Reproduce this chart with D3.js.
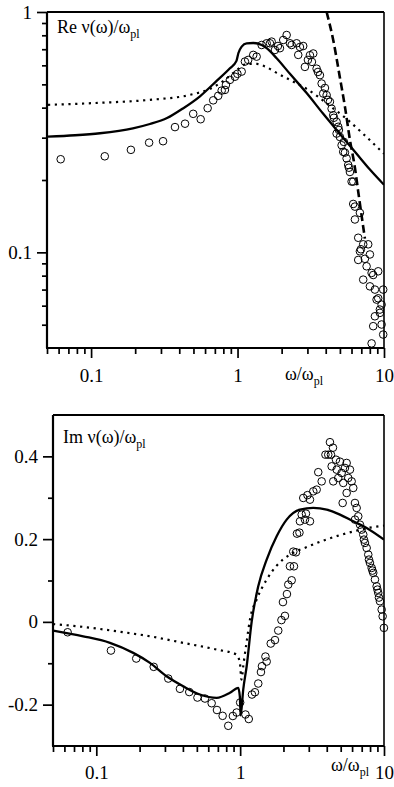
<!DOCTYPE html>
<html>
<head>
<meta charset="utf-8">
<script src="https://cdn.jsdelivr.net/npm/d3@7"></script>
<style>
    html, body { margin: 0; padding: 0; background: #fff; }
    svg { display: block; }
</style>
</head>
<body>
<svg id="chart" width="394" height="787"></svg>
<script>
// ---- Re panel data (omega / omega_pl, value) ----
const reCircles = [
    [0.062, 0.244], [0.124, 0.251], [0.187, 0.267], [0.249, 0.286], [0.310, 0.290], [0.374, 0.332],
    [0.438, 0.343], [0.498, 0.377], [0.560, 0.358], [0.625, 0.398], [0.682, 0.429], [0.738, 0.448],
    [0.779, 0.471], [0.820, 0.474], [0.833, 0.497], [0.887, 0.522], [0.960, 0.538], [0.998, 0.553],
    [1.067, 0.565], [1.123, 0.622], [1.183, 0.632], [1.280, 0.663], [1.350, 0.652], [1.461, 0.729],
    [1.580, 0.741], [1.664, 0.741], [1.709, 0.753], [1.800, 0.695], [1.887, 0.722], [1.947, 0.707],
    [2.051, 0.765], [2.164, 0.802], [2.279, 0.741], [2.341, 0.729], [2.532, 0.741], [2.597, 0.663],
    [2.667, 0.715], [2.808, 0.722], [2.884, 0.591], [3.024, 0.632], [3.121, 0.661], [3.220, 0.620],
    [3.287, 0.672], [3.467, 0.581], [3.539, 0.563], [3.652, 0.546], [3.751, 0.504], [3.846, 0.458],
    [3.951, 0.483], [4.057, 0.451], [4.141, 0.431], [4.272, 0.423], [4.388, 0.396], [4.500, 0.372],
    [4.550, 0.363], [4.747, 0.349], [4.868, 0.333], [4.747, 0.312], [4.923, 0.323], [5.000, 0.302],
    [5.135, 0.279], [5.325, 0.288], [5.266, 0.262], [5.409, 0.260], [5.555, 0.246], [5.696, 0.231],
    [5.760, 0.225], [5.851, 0.216], [6.009, 0.197], [6.163, 0.197], [6.163, 0.159], [6.330, 0.155],
    [6.847, 0.146], [6.330, 0.137], [6.667, 0.115], [7.211, 0.108], [7.802, 0.108], [6.847, 0.101],
    [6.956, 0.103], [8.013, 0.098], [6.667, 0.093], [7.406, 0.094], [7.607, 0.0875], [8.229, 0.0821],
    [9.130, 0.0834], [8.439, 0.0805], [7.211, 0.0770], [8.013, 0.0722], [8.667, 0.0700], [9.874, 0.0700],
    [8.901, 0.0636], [9.130, 0.0644], [9.630, 0.0606], [9.376, 0.0578], [8.667, 0.0542], [9.376, 0.0560],
    [8.439, 0.0493], [9.630, 0.0501], [9.874, 0.0455], [8.229, 0.0418]
];

const reSolidW = [0.0508, 0.0777, 0.115, 0.193, 0.252, 0.330, 0.424, 0.554, 0.720, 0.887, 0.983, 1.014,
    1.067, 1.154, 1.280, 1.461, 1.580, 1.849, 2.279, 2.963, 3.846, 5.000, 6.501, 8.013, 10];
const reSolidV = [0.303, 0.307, 0.313, 0.328, 0.342, 0.362, 0.397, 0.446, 0.517, 0.583, 0.626, 0.675,
    0.718, 0.741, 0.743, 0.729, 0.707, 0.642, 0.553, 0.460, 0.377, 0.311, 0.257, 0.221, 0.191];

const reDotW = [0.0508, 0.115, 0.252, 0.473, 0.648, 0.820, 0.991, 1.159, 1.356, 1.563, 1.849, 2.279, 2.963,
    4.272, 5.555, 7.211, 10];
const reDotV = [0.411, 0.419, 0.431, 0.452, 0.479, 0.522, 0.574, 0.608, 0.608, 0.591, 0.558, 0.522, 0.479,
    0.407, 0.359, 0.311, 0.257];

const reDashW = [4.057, 4.500, 5.000, 5.409, 5.851, 6.330, 6.667, 7.406];
const reDashV = [1.0, 0.765, 0.533, 0.404, 0.294, 0.225, 0.179, 0.114];

// ---- Im panel data ----
const imCircles = [
    [0.0632, -0.0251], [0.1264, -0.0693], [0.1895, -0.0886], [0.2507, -0.1087], [0.3164, -0.137],
    [0.3815, -0.1618], [0.4427, -0.1696], [0.5048, -0.1829], [0.5691, -0.1853], [0.6337, -0.1966],
    [0.6899, -0.213], [0.7556, -0.2271], [0.8267, -0.2512], [0.8898, -0.2275], [0.9456, -0.2191],
    [1.0, -0.1949], [1.089, -0.2239], [1.148, -0.2348], [1.208, -0.1756], [1.267, -0.1701],
    [1.336, -0.149], [1.395, -0.1213], [1.418, -0.1072], [1.529, -0.0959], [1.499, -0.0838],
    [1.632, -0.0524], [1.746, -0.044], [1.840, -0.021], [1.937, 0.0043], [2.048, 0.0145],
    [1.984, 0.0478], [2.115, 0.0672], [2.160, 0.0901], [2.281, 0.1005], [2.219, 0.1343],
    [2.366, 0.1343], [2.340, 0.1698], [2.443, 0.1681], [2.483, 0.2133], [2.584, 0.2157],
    [2.604, 0.243], [2.822, 0.2471], [2.677, 0.2592], [2.867, 0.2616], [3.057, 0.243],
    [2.746, 0.2995], [2.937, 0.3063], [3.223, 0.3155], [3.403, 0.3196], [3.057, 0.2954],
    [3.491, 0.3618], [3.687, 0.3396], [3.917, 0.4041], [4.097, 0.4041], [4.278, 0.4041],
    [4.210, 0.4343], [4.417, 0.421], [4.326, 0.3759], [4.634, 0.392], [4.688, 0.3679],
    [4.438, 0.3396], [4.808, 0.3478], [4.941, 0.3872], [5.077, 0.3599], [5.353, 0.372],
    [5.500, 0.3841], [5.209, 0.3358], [5.643, 0.3478], [5.799, 0.3679], [5.958, 0.3396],
    [6.114, 0.3237], [5.500, 0.3116], [5.160, 0.2874], [6.282, 0.2874], [6.455, 0.2754],
    [6.622, 0.2551], [6.282, 0.2471], [6.804, 0.235], [6.993, 0.223], [7.174, 0.2109],
    [7.255, 0.1988], [7.372, 0.1908], [7.576, 0.1787], [7.773, 0.1626], [7.860, 0.1505],
    [7.987, 0.1425], [8.207, 0.1304], [8.314, 0.1239], [8.420, 0.1184], [8.652, 0.1022],
    [8.891, 0.086], [9.005, 0.078], [9.122, 0.07], [9.224, 0.0587], [9.374, 0.0498],
    [9.632, 0.0297], [9.786, 0.0135], [9.99, -0.0145]
];

const imSolidW = [0.0502, 0.0811, 0.1244, 0.1806, 0.236, 0.308, 0.402, 0.525, 0.687, 0.849, 0.970, 0.995, 1.008,
    1.051, 1.110, 1.202, 1.336, 1.529, 1.794, 2.105, 2.604, 3.223, 3.996, 4.941, 6.114, 7.576, 10];
const imSolidV = [-0.021, -0.0348, -0.0507, -0.0749, -0.099, -0.1314, -0.1556, -0.1756, -0.1836, -0.1715, -0.1594,
    -0.180, -0.226, -0.163, -0.1073, 0.0, 0.086, 0.1505, 0.2068, 0.2471, 0.2713, 0.2754, 0.2713, 0.2592, 0.243,
    0.2271, 0.1988];

const imDotW = [0.050, 0.0811, 0.1385, 0.236, 0.402, 0.687, 0.946, 0.997, 1.021, 1.054, 1.115, 1.170, 1.302,
    1.529, 1.794, 2.219, 2.900, 3.782, 4.941, 6.455, 7.987, 10];
const imDotV = [-0.0053, -0.0121, -0.0227, -0.0348, -0.0507, -0.0669, -0.079, -0.1007, -0.1394, -0.1031,
    -0.0428, 0.0056, 0.0539, 0.1022, 0.136, 0.1626, 0.1807, 0.1964, 0.2097, 0.2205, 0.2278, 0.2326];

// ---- Ticks ----
const xMajor = [0.1, 1, 10];
const xMajorLabels = ['0.1', '1', '10'];
const xMinor = [0.05, 0.06, 0.07, 0.08, 0.09, 0.2, 0.3, 0.4, 0.5, 0.6, 0.7, 0.8, 0.9, 2, 3, 4, 5, 6, 7, 8, 9];

const reYMajor = [0.1, 1];
const reYMajorLabels = ['0.1', '1'];
const reYMinor = [0.05, 0.06, 0.07, 0.08, 0.09, 0.2, 0.3, 0.4, 0.5, 0.6, 0.7, 0.8, 0.9];

const imYMajor = [-0.2, 0, 0.2, 0.4];
const imYMajorLabels = ['-0.2', '0', '0.2', '0.4'];
const imYMinor = [-0.1, 0.1, 0.3];

const serif = '"Liberation Serif", "Times New Roman", serif';
const svg = d3.select('#chart');

function zip(w, v) {
    return w.map((d, i) => [d, v[i]]);
}

function drawPanel(p) {
    const x = d3.scaleLog().domain([0.05, 10]).range([p.left, p.right]);
    const y = p.yLog
        ? d3.scaleLog().domain(p.yDomain).range([p.bottom, p.top])
        : d3.scaleLinear().domain(p.yDomain).range([p.bottom, p.top]);

    const g = svg.append('g');

    g.append('clipPath')
        .attr('id', p.id + '-clip')
        .append('rect')
        .attr('x', p.left)
        .attr('y', p.top)
        .attr('width', p.right - p.left)
        .attr('height', p.bottom - p.top);

    // Axes: minor ticks first, then majors with labels
    const styleAxis = (sel) => {
        sel.select('.domain').remove();
        sel.selectAll('.tick line').attr('stroke-width', 1.7);
        sel.attr('font-family', serif).attr('font-size', 19);
    };

    g.append('g')
        .attr('transform', `translate(0, ${p.bottom})`)
        .call(d3.axisBottom(x).tickValues(xMinor).tickSize(6).tickFormat(''))
        .call(styleAxis);

    g.append('g')
        .attr('transform', `translate(0, ${p.bottom})`)
        .call(d3.axisBottom(x).tickValues(xMajor).tickSize(10).tickPadding(p.xPad)
            .tickFormat((d, i) => xMajorLabels[i]))
        .call(styleAxis);

    g.append('g')
        .attr('transform', `translate(${p.left}, 0)`)
        .call(d3.axisLeft(y).tickValues(p.yMinor).tickSize(5).tickFormat(''))
        .call(styleAxis);

    g.append('g')
        .attr('transform', `translate(${p.left}, 0)`)
        .call(d3.axisLeft(y).tickValues(p.yMajor).tickSize(10).tickPadding(5)
            .tickFormat((d, i) => p.yMajorLabels[i]))
        .call(styleAxis);

    // Frame
    g.append('line').attr('x1', p.left).attr('x2', p.left).attr('y1', p.top).attr('y2', p.bottom)
        .attr('stroke', '#000').attr('stroke-width', 2.2);
    g.append('line').attr('x1', p.left - 1).attr('x2', p.right).attr('y1', p.bottom).attr('y2', p.bottom)
        .attr('stroke', '#000').attr('stroke-width', 2.2);
    g.append('line').attr('x1', p.left).attr('x2', p.right).attr('y1', p.top).attr('y2', p.top)
        .attr('stroke', '#000').attr('stroke-width', 1.8);
    g.append('line').attr('x1', p.right).attr('x2', p.right).attr('y1', p.top).attr('y2', p.bottom)
        .attr('stroke', '#000').attr('stroke-width', 1.6);

    const line = d3.line()
        .x((d) => x(d[0]))
        .y((d) => y(d[1]))
        .curve(d3.curveMonotoneX);

    const curves = g.append('g').attr('clip-path', `url(#${p.id}-clip)`);

    curves.append('path')
        .datum(p.dotted)
        .attr('d', line)
        .attr('fill', 'none')
        .attr('stroke', '#000')
        .attr('stroke-width', 2.2)
        .attr('stroke-dasharray', '2.2 4.6');

    if (p.dashed) {
        curves.append('path')
            .datum(p.dashed)
            .attr('d', line)
            .attr('fill', 'none')
            .attr('stroke', '#000')
            .attr('stroke-width', 2.6)
            .attr('stroke-dasharray', '8 4');
    }

    curves.append('path')
        .datum(p.solid)
        .attr('d', line)
        .attr('fill', 'none')
        .attr('stroke', '#000')
        .attr('stroke-width', 2.3);

    g.append('g')
        .selectAll('circle')
        .data(p.circles)
        .enter()
        .append('circle')
        .attr('cx', (d) => x(d[0]))
        .attr('cy', (d) => y(d[1]))
        .attr('r', 3.8)
        .attr('fill', 'none')
        .attr('stroke', '#000')
        .attr('stroke-width', 1);

    // Panel title
    const title = g.append('text')
        .attr('x', p.titleX)
        .attr('y', p.titleY)
        .attr('font-family', serif)
        .attr('font-size', 18);
    title.append('tspan').text(p.title);
    title.append('tspan').attr('font-size', 12).attr('dy', 5).text('pl');

    // x axis name
    const xName = g.append('text')
        .attr('x', p.xNameX)
        .attr('y', p.xNameY)
        .attr('font-family', serif)
        .attr('font-size', 18);
    xName.append('tspan').text('ω/ω');
    xName.append('tspan').attr('font-size', 12).attr('dy', 5).text('pl');
}

drawPanel({
    id: 're',
    left: 47, right: 384, top: 12, bottom: 348,
    yLog: true, yDomain: [0.04, 1],
    yMajor: reYMajor, yMajorLabels: reYMajorLabels, yMinor: reYMinor,
    xPad: 11,
    circles: reCircles,
    solid: zip(reSolidW, reSolidV),
    dotted: zip(reDotW, reDotV),
    dashed: zip(reDashW, reDashV),
    title: 'Re ν(ω)/ω', titleX: 57, titleY: 33,
    xNameX: 285, xNameY: 380
});

drawPanel({
    id: 'im',
    left: 53, right: 384, top: 415, bottom: 746,
    yLog: false, yDomain: [-0.3, 0.5],
    yMajor: imYMajor, yMajorLabels: imYMajorLabels, yMinor: imYMinor,
    xPad: 10,
    circles: imCircles,
    solid: zip(imSolidW, imSolidV),
    dotted: zip(imDotW, imDotV),
    dashed: null,
    title: 'Im ν(ω)/ω', titleX: 63, titleY: 443,
    xNameX: 331, xNameY: 771
});
</script>
</body>
</html>
